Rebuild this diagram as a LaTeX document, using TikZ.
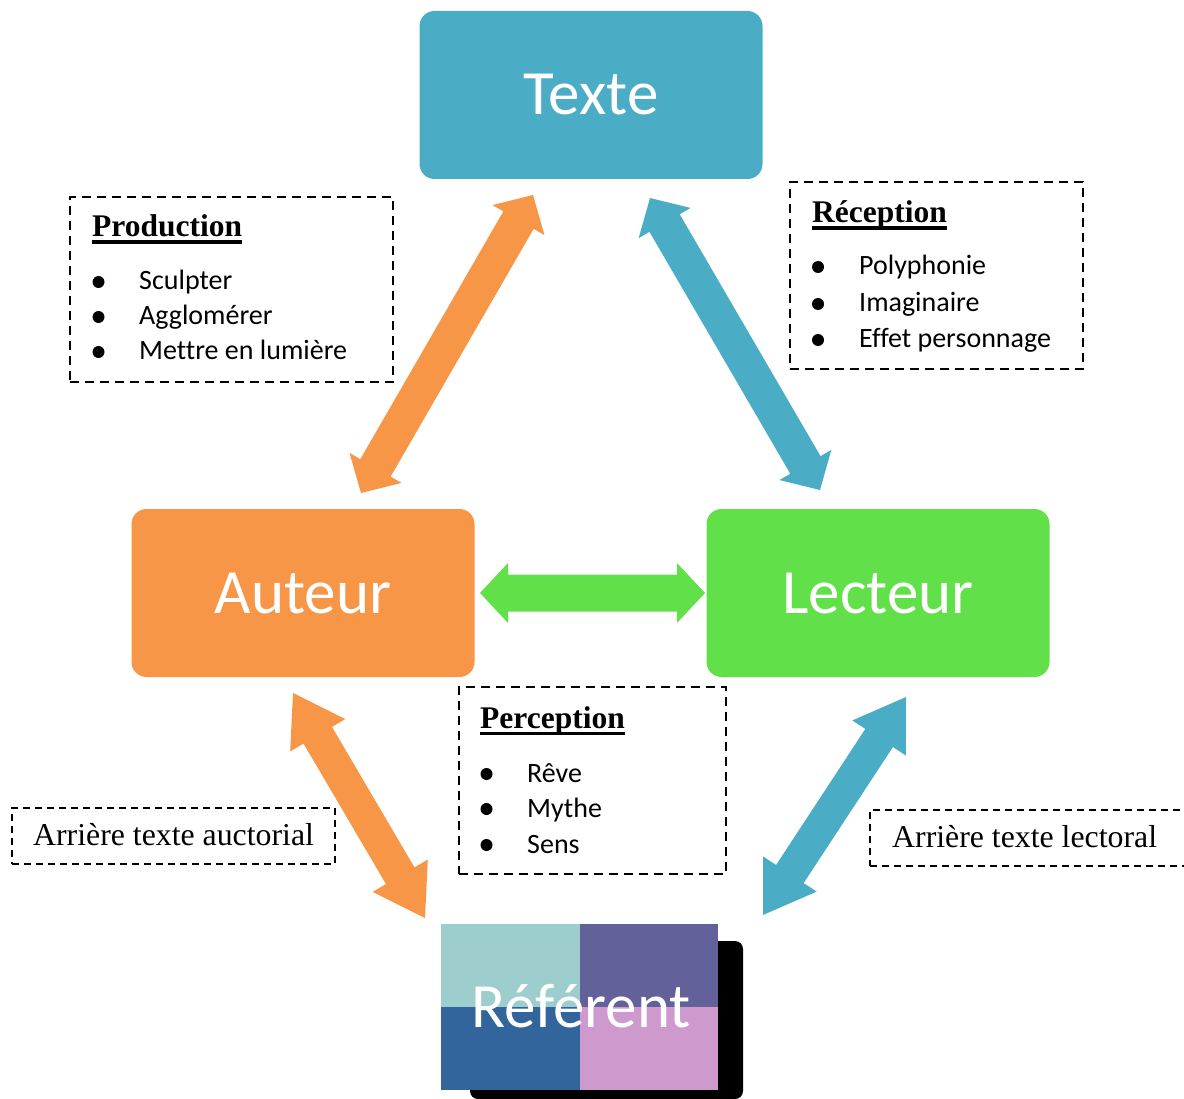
\documentclass[tikz,border=0pt]{standalone}
\usepackage{fontspec}
\setmainfont{Liberation Serif}
\newfontfamily\calfont[Ligatures=NoCommon]{Carlito}
\usetikzlibrary{calc}
\definecolor{cblue}{HTML}{4BACC6}
\definecolor{corange}{HTML}{F79646}
\definecolor{cgreen}{HTML}{62E049}
\definecolor{qa}{HTML}{9DCECD}
\definecolor{qb}{HTML}{636199}
\definecolor{qc}{HTML}{31659C}
\definecolor{qd}{HTML}{CE9ACE}
\newcommand\fatarrow[6]{%
 \coordinate (fa1) at ($(#2)!#4!(#3)$);
 \coordinate (fb1) at ($(#3)!#4!(#2)$);
 \fill[#1] (#2) -- ($(fa1)!#5!90:(#3)$) -- ($(fa1)!#6!90:(#3)$) -- ($(fb1)!#6!-90:(#2)$) -- ($(fb1)!#5!-90:(#2)$) -- (#3) -- ($(fb1)!#5!90:(#2)$) -- ($(fb1)!#6!90:(#2)$) -- ($(fa1)!#6!-90:(#3)$) -- ($(fa1)!#5!-90:(#3)$) -- cycle;}
\newcommand\hdr[1]{\setbox0\hbox{\bfseries #1}\rlap{\rule[-7pt]{\wd0}{3.5pt}}\box0}
\tikzset{
 mainbox/.style={rounded corners=15pt, minimum width=343pt, minimum height=168pt, text=white,
   font=\calfont\fontsize{63}{70}\selectfont, text height=40pt, text depth=0pt, inner sep=0pt},
 dbox/.style={draw, line width=2.8pt, dash pattern=on 9pt off 6pt, inner sep=0pt},
 thindbox/.style={draw, line width=1.8pt, dash pattern=on 7pt off 5pt, inner sep=0pt, minimum height=56pt},
 hd/.style={anchor=base west, inner sep=0pt, font=\fontsize{31.5}{36}\selectfont},
 itemtext/.style={anchor=base west, inner sep=0pt, font=\calfont\fontsize{28}{34}\selectfont},
 bul/.style={circle, fill=black, inner sep=0pt, minimum size=12pt},
 rtext/.style={anchor=base west, inner sep=0pt, font=\fontsize{31.8}{36}\selectfont},
}
\begin{document}
\begin{tikzpicture}[x=1pt,y=-1pt]
\useasboundingbox (0,0) rectangle (1184,1099);
\clip (0,0) rectangle (1184,1099);
% main boxes
\node[mainbox, fill=cblue] (texte) at (591,95) {Texte};
\node[mainbox, fill=corange] (auteur) at (303,593) {Auteur};
\node[mainbox, fill=cgreen] (lecteur) at (878,593) {Lecteur};
% referent
\fill[black, rounded corners=8pt] (470,941) rectangle (743,1099);
\node[minimum width=276pt, minimum height=166pt, inner sep=0pt] (ref) at (579.5,1007) {};
\fill[qa] (ref.north west) rectangle (ref.center);
\fill[qb] (ref.north east) rectangle (ref.center);
\fill[qc] (ref.south west) rectangle (ref.center);
\fill[qd] (ref.south east) rectangle (ref.center);
\node[text=white, font=\calfont\fontsize{63}{70}\selectfont, anchor=base, inner sep=0pt] (reftext) at (581,1027) {Référent};
% arrows
\coordinate (a1s) at (533,195); \coordinate (a1e) at (361,493);
\coordinate (a2s) at (650,198); \coordinate (a2e) at (820,490);
\coordinate (a3s) at (480,593); \coordinate (a3e) at (705,593);
\coordinate (a4s) at (293,693); \coordinate (a4e) at (425,918);
\coordinate (a5s) at (906,697); \coordinate (a5e) at (763,915);
\fatarrow{corange}{a1s}{a1e}{29pt}{30pt}{17.5pt}
\fatarrow{cblue}{a2s}{a2e}{29pt}{30pt}{17.5pt}
\fatarrow{cgreen}{a3s}{a3e}{28pt}{30pt}{18.5pt}
\fatarrow{corange}{a4s}{a4e}{49pt}{32pt}{16.5pt}
\fatarrow{cblue}{a5s}{a5e}{49pt}{32pt}{16.5pt}
% Production
\node[dbox, minimum width=323pt, minimum height=185pt] (prod) at (231.5,289.5) {};
\node[hd] (prodh) at (92,237) {\hdr{Production}};
\node[bul] (pb1) at (98.5,282) {};
\node[bul] (pb2) at (98.5,317) {};
\node[bul] (pb3) at (98.5,352) {};
\node[itemtext] (pi1) at (139,290) {Sculpter};
\node[itemtext] (pi2) at (139,325) {Agglomérer};
\node[itemtext] (pi3) at (139,360) {Mettre en lumière};
% Reception
\node[dbox, minimum width=293pt, minimum height=187pt] (recep) at (936.5,275.5) {};
\node[hd] (recph) at (812,223) {\hdr{Réception}};
\node[bul] (rb1) at (818,267) {};
\node[bul] (rb2) at (818,304) {};
\node[bul] (rb3) at (818,340) {};
\node[itemtext] (ri1) at (859,275) {Polyphonie};
\node[itemtext] (ri2) at (859,312) {Imaginaire};
\node[itemtext] (ri3) at (859,348) {Effet personnage};
% Perception
\node[dbox, minimum width=267pt, minimum height=187pt] (perc) at (592.5,780.5) {};
\node[hd] (perch) at (480,728) {\hdr{Perception}};
\node[bul] (eb1) at (486.5,774) {};
\node[bul] (eb2) at (486.5,809) {};
\node[bul] (eb3) at (486.5,845) {};
\node[itemtext] (ei1) at (527,782) {Rêve};
\node[itemtext] (ei2) at (527,817) {Mythe};
\node[itemtext] (ei3) at (527,853) {Sens};
% arriere texte
\node[thindbox, minimum width=323pt] (auct) at (173.5,836) {};
\node[rtext] (auctt) at (33,845) {Arrière texte auctorial};
\node[thindbox, minimum width=325pt] (lect) at (1032.5,838) {};
\node[rtext] (lectt) at (892,847) {Arrière texte lectoral};
\end{tikzpicture}
\end{document}
